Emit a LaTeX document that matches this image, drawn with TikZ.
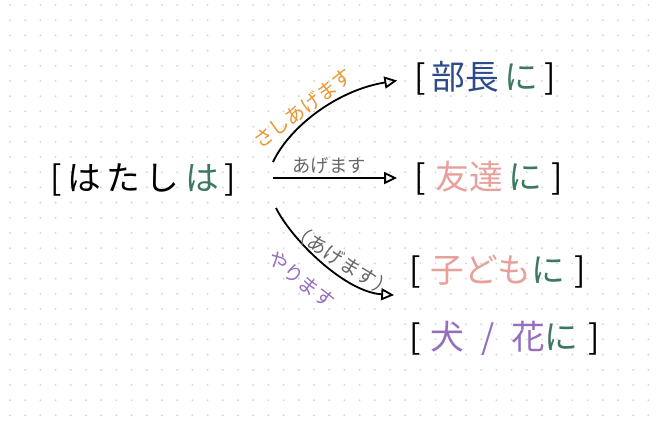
\documentclass[tikz,border=0pt]{standalone}
\usepackage{fontspec}
\setmainfont{Noto Sans CJK JP}
\usepackage{xcolor}
\usepackage{tikz}
\usetikzlibrary{arrows.meta, positioning}

\definecolor{niGreen}{HTML}{3C785F}
\definecolor{bossBlue}{HTML}{2D4B8C}
\definecolor{friendPink}{HTML}{E8A09A}
\definecolor{petPurple}{HTML}{966EBE}
\definecolor{giveOrange}{HTML}{EB9632}
\definecolor{verbGray}{HTML}{666666}
\definecolor{dotGray}{HTML}{D6D6D6}

\begin{document}
\begin{tikzpicture}[
  x=0.025cm, y=-0.025cm,
  who/.style={inner sep=1pt, anchor=west, font=\fontsize{24}{28}\selectfont},
  arr/.style={-{Triangle[open, length=3.2mm, width=3mm]}, line width=1.3pt, shorten >=4mm},
  verb/.style={font=\fontsize{14}{16}\selectfont, sloped, inner sep=1pt, text=#1},
]

% Background dots
\useasboundingbox (0,0) rectangle (660,424);
\fill[white] (0,0) rectangle (660,424);
\foreach \i in {0,...,42}
  \foreach \j in {0,...,27}
    \fill[dotGray] (10+15.2*\i, 5+15.2*\j) circle (0.75pt);

% Nodes
\node[inner sep=1pt, font=\fontsize{24}{28}\selectfont] (me) at (143,180)
  {[\,は\,た\,し\,\textcolor{niGreen}{は}\,]};
\node[who] (bucho) at (413,78) {[\,\textcolor{bossBlue}{部長}\,\textcolor{niGreen}{に}\,]};
\node[who] (tomo) at (413,178) {[\;\textcolor{friendPink}{友達}\,\textcolor{niGreen}{に}\;]};
\node[who] (kodomo) at (408,272) {[\;\textcolor{friendPink}{子ども}\textcolor{niGreen}{に}\;]};
\node[who] (inu) at (408,338) {[\;\textcolor{petPurple}{犬\hspace{0.5em}/\hspace{0.5em}花}\textcolor{niGreen}{に}\;]};

\coordinate (upStart) at (273,162);
\coordinate (midStart) at (273,178);
\coordinate (downStart) at (276,208);

% Arrows
\draw[arr] (upStart) .. controls (290,126) and (338,90) .. (bucho.west)
  node[verb=giveOrange, pos=0.42, above=1pt] {さしあげます};
\draw[arr] (midStart) -- (tomo.west)
  node[verb=verbGray, pos=0.4, above=1pt, font=\fontsize{13}{15}\selectfont] {あげます};
\draw[arr, shorten >=3.5mm] (downStart) .. controls (292,240) and (345,292) .. ([yshift=-4pt]kodomo.south west)
  node[verb=verbGray, pos=0.58, above] {（あげます）}
  node[verb=petPurple, pos=0.46, below=12pt] {やります};

\end{tikzpicture}
\end{document}
